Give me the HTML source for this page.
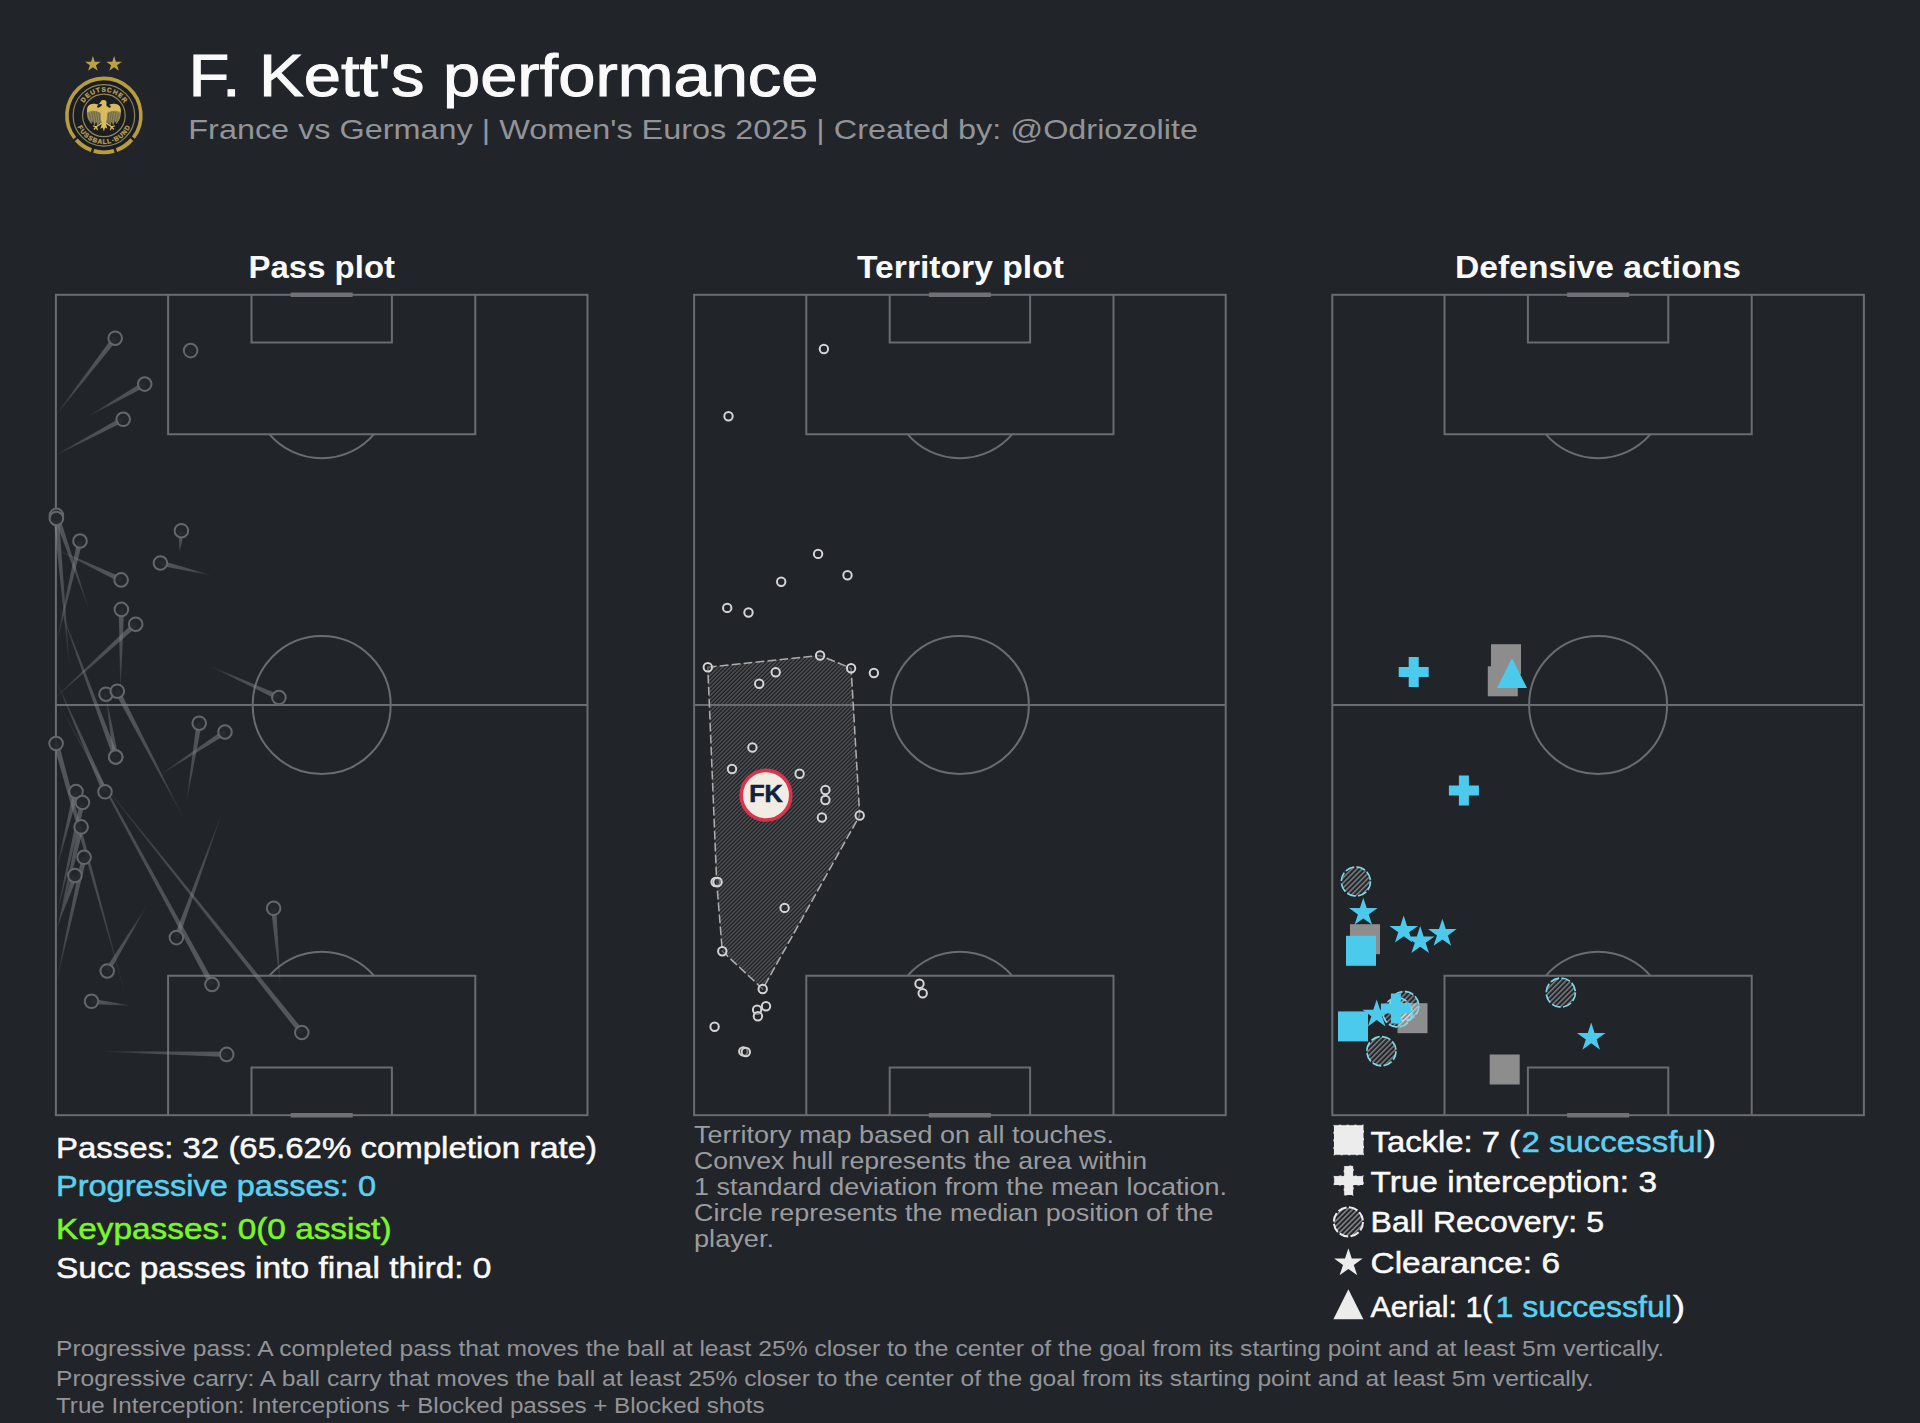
<!DOCTYPE html>
<html lang="en"><head><meta charset="utf-8"><title>F. Kett's performance</title>
<style>html,body{margin:0;padding:0;background:#212429;}body{width:1920px;height:1423px;overflow:hidden;}svg{display:block;}text{font-family:"Liberation Sans",sans-serif;white-space:pre;}</style>
</head><body>
<svg width="1920" height="1423" viewBox="0 0 1920 1423">
<rect width="1920" height="1423" fill="#212429"/>
<defs>
<pattern id="hatch" width="2.83" height="2.83" patternUnits="userSpaceOnUse" patternTransform="rotate(-45)"><rect width="2.83" height="2.83" fill="#1d1f23"/><rect y="0" width="2.83" height="1.3" fill="#56595d"/></pattern>
<pattern id="hatch2" width="3.6" height="3.6" patternUnits="userSpaceOnUse" patternTransform="rotate(-45)"><rect y="0" width="3.6" height="1.5" fill="#ffffff" fill-opacity="0.42"/></pattern>
<pattern id="hatch3" width="3.6" height="3.6" patternUnits="userSpaceOnUse" patternTransform="rotate(-45)"><rect y="0" width="3.6" height="1.5" fill="#8a8c8f"/></pattern>
</defs>
<g>
<polygon points="92.9,56.0 94.7,61.7 100.7,61.7 95.9,65.2 97.7,70.8 92.9,67.3 88.1,70.8 89.9,65.2 85.1,61.7 91.1,61.7" fill="#bda144"/>
<polygon points="114.1,56.0 115.9,61.7 121.9,61.7 117.1,65.2 118.9,70.8 114.1,67.3 109.3,70.8 111.1,65.2 106.3,61.7 112.3,61.7" fill="#bda144"/>
<circle cx="103.9" cy="115.4" r="35" fill="#1b1d21"/>
<g fill="none" stroke="#b89c40" stroke-linecap="butt">
<path d="M74.74 138.18A37 37 0 1 1 133.45 137.67" stroke-width="3.6"/>
<path d="M131.75 139.61A36.9 36.9 0 0 1 116.52 150.07" stroke-width="3.9"/>
<path d="M114.07 150.87A36.9 36.9 0 0 1 93.73 150.87" stroke-width="3.9"/>
<path d="M91.28 150.07A36.9 36.9 0 0 1 76.26 139.85" stroke-width="3.9"/>
</g>
<circle cx="103.9" cy="115.4" r="30.8" fill="none" stroke="#8c865c" stroke-width="1.2"/>
<circle cx="103.9" cy="115.4" r="21.3" fill="none" stroke="#8c865c" stroke-width="1.2"/>
<path id="lgT" d="M81.21 108.89A23.6 23.6 0 0 1 126.59 108.89" fill="none"/>
<path id="lgB" d="M76.15 122.32A28.6 28.6 0 0 0 131.65 122.32" fill="none"/>
<text font-size="6.5" font-weight="bold" fill="#b9a052" stroke="#b9a052" stroke-width="0.3" text-anchor="middle"><textPath href="#lgT" startOffset="50%" textLength="48" lengthAdjust="spacing">DEUTSCHER</textPath></text>
<text font-size="6.5" font-weight="bold" fill="#b9a052" stroke="#b9a052" stroke-width="0.3" text-anchor="middle"><textPath href="#lgB" startOffset="50%" textLength="66" lengthAdjust="spacing">FUSSBALL·BUND</textPath></text>
<g transform="translate(103.9,115.4)">
<path d="M-3 -9 C-7 -12.5 -13 -12.5 -16 -9 C-17.5 -5 -17.5 1 -15 5 L-12.5 8.5 L-11 5.5 L-9.5 10 L-7.8 6.5 L-6.2 10.6 L-4.6 7 L-3 9.5 L-2.2 -2 Z" fill="#8f875a"/>
<path d="M3 -9 C7 -12.5 13 -12.5 16 -9 C17.5 -5 17.5 1 15 5 L12.5 8.5 L11 5.5 L9.5 10 L7.8 6.5 L6.2 10.6 L4.6 7 L3 9.5 L2.2 -2 Z" fill="#8f875a"/>
<path d="M-2.6 -8.5 C-7 -12.6 -13 -12.6 -16 -9 C-16.8 -6.8 -17 -4.5 -16.8 -2.6 C-13 -5.5 -7 -5.2 -2.4 -1.5 Z" fill="#d6ba5c"/>
<path d="M2.6 -8.5 C7 -12.6 13 -12.6 16 -9 C16.8 -6.8 17 -4.5 16.8 -2.6 C13 -5.5 7 -5.2 2.4 -1.5 Z" fill="#d6ba5c"/>
<path d="M-0.6 -15.4 C1.8 -15.6 3.2 -13.8 2.6 -11.8 C2.3 -10.6 2.6 -9.5 3.2 -8.4 L3 4 L2.2 9 L3.6 13.4 L1.2 12.2 L0 16.2 L-1.2 12.2 L-3.6 13.4 L-2.2 9 L-3 4 L-3.2 -8.4 C-2.4 -9.4 -2 -10.4 -2.2 -11.4 L-5.4 -11.2 L-3.4 -13.2 C-3 -14.6 -2 -15.3 -0.6 -15.4 Z" fill="#d8bc5e"/>
<g fill="#1b1d21"><ellipse cx="-5" cy="-9.3" rx="2" ry="1.3" transform="rotate(-25 -5 -9.3)"/><ellipse cx="5" cy="-9.3" rx="2" ry="1.3" transform="rotate(25 5 -9.3)"/></g>
<g stroke="#1b1d21" stroke-width="0.55" stroke-opacity="0.55" fill="none"><path d="M-14.6 -2 L-12.4 7 M-12.2 -3.4 L-10 8 M-9.8 -4 L-7.8 8 M-7.4 -4 L-5.6 8.6 M-5 -3.4 L-3.8 8"/><path d="M14.6 -2 L12.4 7 M12.2 -3.4 L10 8 M9.8 -4 L7.8 8 M7.4 -4 L5.6 8.6 M5 -3.4 L3.8 8"/></g>
<g stroke="#d8bc5e" stroke-width="1.3" stroke-linecap="round" fill="none"><path d="M-2.6 8 L-7.6 11.4 M-7.6 11.4 L-10.4 10.6 M-7.6 11.4 L-9.6 13.6 M-7.6 11.4 L-6.6 14.2"/><path d="M2.6 8 L7.6 11.4 M7.6 11.4 L10.4 10.6 M7.6 11.4 L9.6 13.6 M7.6 11.4 L6.6 14.2"/></g>
</g>
</g>
<text x="188.5" y="95.9" font-size="60" fill="#fafafa" textLength="630.0" lengthAdjust="spacingAndGlyphs" stroke="#fafafa" stroke-width="1.0">F. Kett's performance</text>
<text x="188.3" y="138.5" font-size="27.6" fill="#929497" textLength="1009.7" lengthAdjust="spacingAndGlyphs">France vs Germany | Women's Euros 2025 | Created by: @Odriozolite</text>
<text x="248.5" y="277.8" font-size="31.5" fill="#fafafa" font-weight="bold" textLength="146.5" lengthAdjust="spacingAndGlyphs">Pass plot</text>
<text x="857" y="277.8" font-size="31.5" fill="#fafafa" font-weight="bold" textLength="207" lengthAdjust="spacingAndGlyphs">Territory plot</text>
<text x="1455" y="277.8" font-size="31.5" fill="#fafafa" font-weight="bold" textLength="286" lengthAdjust="spacingAndGlyphs">Defensive actions</text>
<text x="56" y="1157.5" font-size="30" fill="#fafafa" textLength="541" lengthAdjust="spacingAndGlyphs" stroke="#fafafa" stroke-width="0.5">Passes: 32 (65.62% completion rate)</text>
<text x="56" y="1195.8" font-size="30" fill="#5bd1ef" textLength="320" lengthAdjust="spacingAndGlyphs" stroke="#5bd1ef" stroke-width="0.5">Progressive passes: 0</text>
<text x="56" y="1239.2" font-size="30" fill="#79f727" textLength="335.5" lengthAdjust="spacingAndGlyphs" stroke="#79f727" stroke-width="0.5">Keypasses: 0(0 assist)</text>
<text x="56" y="1277.5" font-size="30" fill="#fafafa" textLength="435.5" lengthAdjust="spacingAndGlyphs" stroke="#fafafa" stroke-width="0.5">Succ passes into final third: 0</text>
<text x="694" y="1143" font-size="24.2" fill="#9a9c9f" textLength="420" lengthAdjust="spacingAndGlyphs">Territory map based on all touches.</text>
<text x="694" y="1169.2" font-size="24.2" fill="#9a9c9f" textLength="453" lengthAdjust="spacingAndGlyphs">Convex hull represents the area within</text>
<text x="694" y="1194.6" font-size="24.2" fill="#9a9c9f" textLength="533" lengthAdjust="spacingAndGlyphs">1 standard deviation from the mean location.</text>
<text x="694" y="1220.8" font-size="24.2" fill="#9a9c9f" textLength="519.5" lengthAdjust="spacingAndGlyphs">Circle represents the median position of the</text>
<text x="694" y="1246.7" font-size="24.2" fill="#9a9c9f" textLength="80" lengthAdjust="spacingAndGlyphs">player.</text>
<text x="56" y="1355.8" font-size="21.8" fill="#929497" textLength="1608" lengthAdjust="spacingAndGlyphs">Progressive pass: A completed pass that moves the ball at least 25% closer to the center of the goal from its starting point and at least 5m vertically.</text>
<text x="56" y="1385.9" font-size="21.8" fill="#929497" textLength="1537.6" lengthAdjust="spacingAndGlyphs">Progressive carry: A ball carry that moves the ball at least 25% closer to the center of the goal from its starting point and at least 5m vertically.</text>
<text x="56" y="1413" font-size="21.8" fill="#929497" textLength="708.5" lengthAdjust="spacingAndGlyphs">True Interception: Interceptions + Blocked passes + Blocked shots</text>
<text x="1370.5" y="1152.2" font-size="30" fill="#fafafa" textLength="149.5" lengthAdjust="spacingAndGlyphs" stroke="#fafafa" stroke-width="0.5">Tackle: 7 (</text>
<text x="1521.5" y="1152.2" font-size="30" fill="#5bd1ef" textLength="181.5" lengthAdjust="spacingAndGlyphs" stroke="#5bd1ef" stroke-width="0.5">2 successful</text>
<text x="1704" y="1152.2" font-size="30" fill="#fafafa" textLength="12" lengthAdjust="spacingAndGlyphs" stroke="#fafafa" stroke-width="0.5">)</text>
<text x="1370.5" y="1191.9" font-size="30" fill="#fafafa" textLength="286.5" lengthAdjust="spacingAndGlyphs" stroke="#fafafa" stroke-width="0.5">True interception: 3</text>
<text x="1370.5" y="1231.9" font-size="30" fill="#fafafa" textLength="233.5" lengthAdjust="spacingAndGlyphs" stroke="#fafafa" stroke-width="0.5">Ball Recovery: 5</text>
<text x="1370.5" y="1273.1" font-size="30" fill="#fafafa" textLength="189.5" lengthAdjust="spacingAndGlyphs" stroke="#fafafa" stroke-width="0.5">Clearance: 6</text>
<text x="1370.5" y="1316.9" font-size="30" fill="#fafafa" textLength="122.0" lengthAdjust="spacingAndGlyphs" stroke="#fafafa" stroke-width="0.5">Aerial: 1(</text>
<text x="1495.5" y="1316.9" font-size="30" fill="#5bd1ef" textLength="176.5" lengthAdjust="spacingAndGlyphs" stroke="#5bd1ef" stroke-width="0.5">1 successful</text>
<text x="1673" y="1316.9" font-size="30" fill="#fafafa" textLength="12" lengthAdjust="spacingAndGlyphs" stroke="#fafafa" stroke-width="0.5">)</text>
<polygon points="707.8,667.2 820.1,655.5 851.1,668.3 859.7,815.5 762.7,989.0 722.3,951.2 716.7,882.0" fill="url(#hatch)"/>
<g fill="none" stroke="#696c70" stroke-width="2" stroke-linejoin="miter">
<rect x="55.9" y="294.8" width="531.6" height="820.4"/>
<line x1="55.9" y1="705.0" x2="587.5" y2="705.0"/>
<circle cx="321.7" cy="705.0" r="69.0"/>
<path d="M168.1 294.8V434.3H475.3V294.8"/>
<path d="M168.1 1115.2V975.7H475.3V1115.2"/>
<path d="M251.5 294.8V342.4H391.9V294.8"/>
<path d="M251.5 1115.2V1067.6H391.9V1115.2"/>
<path d="M269.5 434.3A69.0 69.0 0 0 0 373.9 434.3"/>
<path d="M269.5 975.7A69.0 69.0 0 0 1 373.9 975.7"/>
</g>
<g stroke="#707174" stroke-width="4.4" stroke-linecap="butt">
<line x1="290.7" y1="294.8" x2="352.7" y2="294.8"/>
<line x1="290.7" y1="1115.2" x2="352.7" y2="1115.2"/>
</g>
<g fill="none" stroke="#696c70" stroke-width="2" stroke-linejoin="miter">
<rect x="694.1" y="294.8" width="531.6" height="820.4"/>
<line x1="694.1" y1="705.0" x2="1225.7" y2="705.0"/>
<circle cx="959.9" cy="705.0" r="69.0"/>
<path d="M806.3 294.8V434.3H1113.5V294.8"/>
<path d="M806.3 1115.2V975.7H1113.5V1115.2"/>
<path d="M889.7 294.8V342.4H1030.1V294.8"/>
<path d="M889.7 1115.2V1067.6H1030.1V1115.2"/>
<path d="M907.7 434.3A69.0 69.0 0 0 0 1012.1 434.3"/>
<path d="M907.7 975.7A69.0 69.0 0 0 1 1012.1 975.7"/>
</g>
<g stroke="#707174" stroke-width="4.4" stroke-linecap="butt">
<line x1="928.9" y1="294.8" x2="990.9" y2="294.8"/>
<line x1="928.9" y1="1115.2" x2="990.9" y2="1115.2"/>
</g>
<g fill="none" stroke="#696c70" stroke-width="2" stroke-linejoin="miter">
<rect x="1332.3" y="294.8" width="531.6" height="820.4"/>
<line x1="1332.3" y1="705.0" x2="1863.9" y2="705.0"/>
<circle cx="1598.1" cy="705.0" r="69.0"/>
<path d="M1444.5 294.8V434.3H1751.7V294.8"/>
<path d="M1444.5 1115.2V975.7H1751.7V1115.2"/>
<path d="M1527.9 294.8V342.4H1668.3V294.8"/>
<path d="M1527.9 1115.2V1067.6H1668.3V1115.2"/>
<path d="M1545.9 434.3A69.0 69.0 0 0 0 1650.3 434.3"/>
<path d="M1545.9 975.7A69.0 69.0 0 0 1 1650.3 975.7"/>
</g>
<g stroke="#707174" stroke-width="4.4" stroke-linecap="butt">
<line x1="1567.1" y1="294.8" x2="1629.1" y2="294.8"/>
<line x1="1567.1" y1="1115.2" x2="1629.1" y2="1115.2"/>
</g>
<defs><linearGradient id="pg0" gradientUnits="userSpaceOnUse" x1="56.0" y1="415.0" x2="115.2" y2="338.2"><stop offset="0" stop-color="#84878a" stop-opacity="0.06"/><stop offset="0.35" stop-color="#84878a" stop-opacity="0.38"/><stop offset="1" stop-color="#84878a" stop-opacity="0.53"/></linearGradient><linearGradient id="pg1" gradientUnits="userSpaceOnUse" x1="90.0" y1="415.3" x2="144.7" y2="384.1"><stop offset="0" stop-color="#84878a" stop-opacity="0.06"/><stop offset="0.35" stop-color="#84878a" stop-opacity="0.38"/><stop offset="1" stop-color="#84878a" stop-opacity="0.53"/></linearGradient><linearGradient id="pg2" gradientUnits="userSpaceOnUse" x1="56.0" y1="455.0" x2="123.2" y2="419.3"><stop offset="0" stop-color="#84878a" stop-opacity="0.06"/><stop offset="0.35" stop-color="#84878a" stop-opacity="0.38"/><stop offset="1" stop-color="#84878a" stop-opacity="0.53"/></linearGradient><linearGradient id="pg3" gradientUnits="userSpaceOnUse" x1="189.0" y1="351.5" x2="190.6" y2="350.6"><stop offset="0" stop-color="#84878a" stop-opacity="0.06"/><stop offset="0.35" stop-color="#84878a" stop-opacity="0.38"/><stop offset="1" stop-color="#84878a" stop-opacity="0.53"/></linearGradient><linearGradient id="pg4" gradientUnits="userSpaceOnUse" x1="88.3" y1="607.6" x2="56.4" y2="515.4"><stop offset="0" stop-color="#84878a" stop-opacity="0.06"/><stop offset="0.35" stop-color="#84878a" stop-opacity="0.38"/><stop offset="1" stop-color="#84878a" stop-opacity="0.53"/></linearGradient><linearGradient id="pg5" gradientUnits="userSpaceOnUse" x1="69.3" y1="665.8" x2="56.4" y2="518.5"><stop offset="0" stop-color="#84878a" stop-opacity="0.06"/><stop offset="0.35" stop-color="#84878a" stop-opacity="0.38"/><stop offset="1" stop-color="#84878a" stop-opacity="0.53"/></linearGradient><linearGradient id="pg6" gradientUnits="userSpaceOnUse" x1="56.0" y1="645.0" x2="80.0" y2="541.0"><stop offset="0" stop-color="#84878a" stop-opacity="0.06"/><stop offset="0.35" stop-color="#84878a" stop-opacity="0.38"/><stop offset="1" stop-color="#84878a" stop-opacity="0.53"/></linearGradient><linearGradient id="pg7" gradientUnits="userSpaceOnUse" x1="58.0" y1="550.0" x2="121.1" y2="579.9"><stop offset="0" stop-color="#84878a" stop-opacity="0.06"/><stop offset="0.35" stop-color="#84878a" stop-opacity="0.38"/><stop offset="1" stop-color="#84878a" stop-opacity="0.53"/></linearGradient><linearGradient id="pg8" gradientUnits="userSpaceOnUse" x1="120.5" y1="690.0" x2="121.4" y2="609.4"><stop offset="0" stop-color="#84878a" stop-opacity="0.06"/><stop offset="0.35" stop-color="#84878a" stop-opacity="0.38"/><stop offset="1" stop-color="#84878a" stop-opacity="0.53"/></linearGradient><linearGradient id="pg9" gradientUnits="userSpaceOnUse" x1="56.0" y1="697.0" x2="135.7" y2="624.2"><stop offset="0" stop-color="#84878a" stop-opacity="0.06"/><stop offset="0.35" stop-color="#84878a" stop-opacity="0.38"/><stop offset="1" stop-color="#84878a" stop-opacity="0.53"/></linearGradient><linearGradient id="pg10" gradientUnits="userSpaceOnUse" x1="210.0" y1="575.0" x2="160.4" y2="563.0"><stop offset="0" stop-color="#84878a" stop-opacity="0.06"/><stop offset="0.35" stop-color="#84878a" stop-opacity="0.38"/><stop offset="1" stop-color="#84878a" stop-opacity="0.53"/></linearGradient><linearGradient id="pg11" gradientUnits="userSpaceOnUse" x1="179.5" y1="553.0" x2="181.4" y2="530.7"><stop offset="0" stop-color="#84878a" stop-opacity="0.06"/><stop offset="0.35" stop-color="#84878a" stop-opacity="0.38"/><stop offset="1" stop-color="#84878a" stop-opacity="0.53"/></linearGradient><linearGradient id="pg12" gradientUnits="userSpaceOnUse" x1="212.0" y1="667.0" x2="278.9" y2="697.5"><stop offset="0" stop-color="#84878a" stop-opacity="0.06"/><stop offset="0.35" stop-color="#84878a" stop-opacity="0.38"/><stop offset="1" stop-color="#84878a" stop-opacity="0.53"/></linearGradient><linearGradient id="pg13" gradientUnits="userSpaceOnUse" x1="104.0" y1="700.0" x2="106.0" y2="694.2"><stop offset="0" stop-color="#84878a" stop-opacity="0.06"/><stop offset="0.35" stop-color="#84878a" stop-opacity="0.38"/><stop offset="1" stop-color="#84878a" stop-opacity="0.53"/></linearGradient><linearGradient id="pg14" gradientUnits="userSpaceOnUse" x1="183.0" y1="817.0" x2="117.3" y2="691.2"><stop offset="0" stop-color="#84878a" stop-opacity="0.06"/><stop offset="0.35" stop-color="#84878a" stop-opacity="0.38"/><stop offset="1" stop-color="#84878a" stop-opacity="0.53"/></linearGradient><linearGradient id="pg15" gradientUnits="userSpaceOnUse" x1="57.0" y1="600.0" x2="115.7" y2="757.0"><stop offset="0" stop-color="#84878a" stop-opacity="0.06"/><stop offset="0.35" stop-color="#84878a" stop-opacity="0.38"/><stop offset="1" stop-color="#84878a" stop-opacity="0.53"/></linearGradient><linearGradient id="pg16" gradientUnits="userSpaceOnUse" x1="106.0" y1="696.0" x2="115.7" y2="757.0"><stop offset="0" stop-color="#84878a" stop-opacity="0.06"/><stop offset="0.35" stop-color="#84878a" stop-opacity="0.38"/><stop offset="1" stop-color="#84878a" stop-opacity="0.53"/></linearGradient><linearGradient id="pg17" gradientUnits="userSpaceOnUse" x1="124.0" y1="990.0" x2="56.1" y2="743.5"><stop offset="0" stop-color="#84878a" stop-opacity="0.06"/><stop offset="0.35" stop-color="#84878a" stop-opacity="0.38"/><stop offset="1" stop-color="#84878a" stop-opacity="0.53"/></linearGradient><linearGradient id="pg18" gradientUnits="userSpaceOnUse" x1="57.0" y1="868.0" x2="76.0" y2="791.5"><stop offset="0" stop-color="#84878a" stop-opacity="0.06"/><stop offset="0.35" stop-color="#84878a" stop-opacity="0.38"/><stop offset="1" stop-color="#84878a" stop-opacity="0.53"/></linearGradient><linearGradient id="pg19" gradientUnits="userSpaceOnUse" x1="56.6" y1="915.6" x2="82.4" y2="802.5"><stop offset="0" stop-color="#84878a" stop-opacity="0.06"/><stop offset="0.35" stop-color="#84878a" stop-opacity="0.38"/><stop offset="1" stop-color="#84878a" stop-opacity="0.53"/></linearGradient><linearGradient id="pg20" gradientUnits="userSpaceOnUse" x1="56.6" y1="932.5" x2="81.1" y2="826.9"><stop offset="0" stop-color="#84878a" stop-opacity="0.06"/><stop offset="0.35" stop-color="#84878a" stop-opacity="0.38"/><stop offset="1" stop-color="#84878a" stop-opacity="0.53"/></linearGradient><linearGradient id="pg21" gradientUnits="userSpaceOnUse" x1="56.6" y1="981.4" x2="84.1" y2="857.3"><stop offset="0" stop-color="#84878a" stop-opacity="0.06"/><stop offset="0.35" stop-color="#84878a" stop-opacity="0.38"/><stop offset="1" stop-color="#84878a" stop-opacity="0.53"/></linearGradient><linearGradient id="pg22" gradientUnits="userSpaceOnUse" x1="57.0" y1="927.0" x2="74.9" y2="875.5"><stop offset="0" stop-color="#84878a" stop-opacity="0.06"/><stop offset="0.35" stop-color="#84878a" stop-opacity="0.38"/><stop offset="1" stop-color="#84878a" stop-opacity="0.53"/></linearGradient><linearGradient id="pg23" gradientUnits="userSpaceOnUse" x1="56.0" y1="680.0" x2="105.0" y2="791.8"><stop offset="0" stop-color="#84878a" stop-opacity="0.06"/><stop offset="0.35" stop-color="#84878a" stop-opacity="0.38"/><stop offset="1" stop-color="#84878a" stop-opacity="0.53"/></linearGradient><linearGradient id="pg24" gradientUnits="userSpaceOnUse" x1="57.0" y1="700.0" x2="212.0" y2="984.5"><stop offset="0" stop-color="#84878a" stop-opacity="0.06"/><stop offset="0.35" stop-color="#84878a" stop-opacity="0.38"/><stop offset="1" stop-color="#84878a" stop-opacity="0.53"/></linearGradient><linearGradient id="pg25" gradientUnits="userSpaceOnUse" x1="100.0" y1="780.0" x2="301.8" y2="1032.5"><stop offset="0" stop-color="#84878a" stop-opacity="0.06"/><stop offset="0.35" stop-color="#84878a" stop-opacity="0.38"/><stop offset="1" stop-color="#84878a" stop-opacity="0.53"/></linearGradient><linearGradient id="pg26" gradientUnits="userSpaceOnUse" x1="186.5" y1="802.0" x2="199.2" y2="723.2"><stop offset="0" stop-color="#84878a" stop-opacity="0.06"/><stop offset="0.35" stop-color="#84878a" stop-opacity="0.38"/><stop offset="1" stop-color="#84878a" stop-opacity="0.53"/></linearGradient><linearGradient id="pg27" gradientUnits="userSpaceOnUse" x1="162.0" y1="773.5" x2="225.0" y2="732.0"><stop offset="0" stop-color="#84878a" stop-opacity="0.06"/><stop offset="0.35" stop-color="#84878a" stop-opacity="0.38"/><stop offset="1" stop-color="#84878a" stop-opacity="0.53"/></linearGradient><linearGradient id="pg28" gradientUnits="userSpaceOnUse" x1="280.3" y1="985.0" x2="273.6" y2="908.3"><stop offset="0" stop-color="#84878a" stop-opacity="0.06"/><stop offset="0.35" stop-color="#84878a" stop-opacity="0.38"/><stop offset="1" stop-color="#84878a" stop-opacity="0.53"/></linearGradient><linearGradient id="pg29" gradientUnits="userSpaceOnUse" x1="222.0" y1="813.0" x2="176.4" y2="937.6"><stop offset="0" stop-color="#84878a" stop-opacity="0.06"/><stop offset="0.35" stop-color="#84878a" stop-opacity="0.38"/><stop offset="1" stop-color="#84878a" stop-opacity="0.53"/></linearGradient><linearGradient id="pg30" gradientUnits="userSpaceOnUse" x1="146.0" y1="907.0" x2="107.2" y2="971.0"><stop offset="0" stop-color="#84878a" stop-opacity="0.06"/><stop offset="0.35" stop-color="#84878a" stop-opacity="0.38"/><stop offset="1" stop-color="#84878a" stop-opacity="0.53"/></linearGradient><linearGradient id="pg31" gradientUnits="userSpaceOnUse" x1="130.0" y1="1005.5" x2="91.5" y2="1001.3"><stop offset="0" stop-color="#84878a" stop-opacity="0.06"/><stop offset="0.35" stop-color="#84878a" stop-opacity="0.38"/><stop offset="1" stop-color="#84878a" stop-opacity="0.53"/></linearGradient><linearGradient id="pg32" gradientUnits="userSpaceOnUse" x1="105.0" y1="1051.5" x2="226.7" y2="1054.4"><stop offset="0" stop-color="#84878a" stop-opacity="0.06"/><stop offset="0.35" stop-color="#84878a" stop-opacity="0.38"/><stop offset="1" stop-color="#84878a" stop-opacity="0.53"/></linearGradient></defs>
<g><polygon fill="url(#pg0)" points="56.2,415.2 117.3,339.8 113.1,336.6 55.8,414.8"/>
<polygon fill="url(#pg1)" points="90.1,415.5 146.0,386.4 143.4,381.8 89.9,415.1"/>
<polygon fill="url(#pg2)" points="56.1,455.2 124.4,421.6 122.0,417.0 55.9,454.8"/>
<polygon fill="url(#pg3)" points="189.1,351.7 191.9,352.9 189.3,348.3 188.9,351.3"/>
<polygon fill="url(#pg4)" points="88.5,607.5 58.9,514.5 53.9,516.3 88.1,607.7"/>
<polygon fill="url(#pg5)" points="69.5,665.8 59.0,518.3 53.8,518.7 69.1,665.8"/>
<polygon fill="url(#pg6)" points="56.2,645.1 82.5,541.6 77.5,540.4 55.8,644.9"/>
<polygon fill="url(#pg7)" points="57.9,550.2 120.0,582.2 122.2,577.6 58.1,549.8"/>
<polygon fill="url(#pg8)" points="120.7,690.0 124.0,609.4 118.8,609.4 120.3,690.0"/>
<polygon fill="url(#pg9)" points="56.2,697.2 137.5,626.1 133.9,622.3 55.8,696.8"/>
<polygon fill="url(#pg10)" points="210.1,574.8 161.0,560.5 159.8,565.5 209.9,575.2"/>
<polygon fill="url(#pg11)" points="179.7,553.0 184.0,530.9 178.8,530.5 179.3,553.0"/>
<polygon fill="url(#pg12)" points="211.9,667.2 277.8,699.9 280.0,695.1 212.1,666.8"/>
<polygon fill="url(#pg13)" points="104.2,700.1 108.5,695.0 103.5,693.4 103.8,699.9"/>
<polygon fill="url(#pg14)" points="183.2,816.9 119.6,690.0 115.0,692.4 182.8,817.1"/>
<polygon fill="url(#pg15)" points="56.8,600.1 113.3,757.9 118.1,756.1 57.2,599.9"/>
<polygon fill="url(#pg16)" points="105.8,696.0 113.1,757.4 118.3,756.6 106.2,696.0"/>
<polygon fill="url(#pg17)" points="124.2,989.9 58.6,742.8 53.6,744.2 123.8,990.1"/>
<polygon fill="url(#pg18)" points="57.2,868.1 78.5,792.1 73.5,790.9 56.8,867.9"/>
<polygon fill="url(#pg19)" points="56.8,915.7 84.9,803.1 79.9,801.9 56.4,915.5"/>
<polygon fill="url(#pg20)" points="56.8,932.6 83.6,827.5 78.6,826.3 56.4,932.4"/>
<polygon fill="url(#pg21)" points="56.8,981.5 86.6,857.9 81.6,856.7 56.4,981.3"/>
<polygon fill="url(#pg22)" points="57.2,927.1 77.4,876.4 72.4,874.6 56.8,926.9"/>
<polygon fill="url(#pg23)" points="55.8,680.1 102.6,792.8 107.4,790.8 56.2,679.9"/>
<polygon fill="url(#pg24)" points="56.8,700.1 209.7,985.7 214.3,983.3 57.2,699.9"/>
<polygon fill="url(#pg25)" points="99.8,780.2 299.8,1034.1 303.8,1030.9 100.2,779.8"/>
<polygon fill="url(#pg26)" points="186.7,802.0 201.8,723.6 196.6,722.8 186.3,802.0"/>
<polygon fill="url(#pg27)" points="162.1,773.7 226.4,734.2 223.6,729.8 161.9,773.3"/>
<polygon fill="url(#pg28)" points="280.5,985.0 276.2,908.1 271.0,908.5 280.1,985.0"/>
<polygon fill="url(#pg29)" points="221.8,812.9 174.0,936.7 178.8,938.5 222.2,813.1"/>
<polygon fill="url(#pg30)" points="145.8,906.9 105.0,969.7 109.4,972.3 146.2,907.1"/>
<polygon fill="url(#pg31)" points="130.0,1005.3 91.8,998.7 91.2,1003.9 130.0,1005.7"/>
<polygon fill="url(#pg32)" points="105.0,1051.7 226.6,1057.0 226.8,1051.8 105.0,1051.3"/></g>
<g fill="#24272b" fill-opacity="0.9" stroke="#64676b" stroke-width="2"><circle cx="115.2" cy="338.2" r="6.8"/>
<circle cx="144.7" cy="384.1" r="6.8"/>
<circle cx="123.2" cy="419.3" r="6.8"/>
<circle cx="190.6" cy="350.6" r="6.8"/>
<circle cx="56.4" cy="515.4" r="6.8"/>
<circle cx="56.4" cy="518.5" r="6.8"/>
<circle cx="80.0" cy="541.0" r="6.8"/>
<circle cx="121.1" cy="579.9" r="6.8"/>
<circle cx="121.4" cy="609.4" r="6.8"/>
<circle cx="135.7" cy="624.2" r="6.8"/>
<circle cx="160.4" cy="563.0" r="6.8"/>
<circle cx="181.4" cy="530.7" r="6.8"/>
<circle cx="278.9" cy="697.5" r="6.8"/>
<circle cx="106.0" cy="694.2" r="6.8"/>
<circle cx="117.3" cy="691.2" r="6.8"/>
<circle cx="115.7" cy="757.0" r="6.8"/>
<circle cx="115.7" cy="757.0" r="6.8"/>
<circle cx="56.1" cy="743.5" r="6.8"/>
<circle cx="76.0" cy="791.5" r="6.8"/>
<circle cx="82.4" cy="802.5" r="6.8"/>
<circle cx="81.1" cy="826.9" r="6.8"/>
<circle cx="84.1" cy="857.3" r="6.8"/>
<circle cx="74.9" cy="875.5" r="6.8"/>
<circle cx="105.0" cy="791.8" r="6.8"/>
<circle cx="212.0" cy="984.5" r="6.8"/>
<circle cx="301.8" cy="1032.5" r="6.8"/>
<circle cx="199.2" cy="723.2" r="6.8"/>
<circle cx="225.0" cy="732.0" r="6.8"/>
<circle cx="273.6" cy="908.3" r="6.8"/>
<circle cx="176.4" cy="937.6" r="6.8"/>
<circle cx="107.2" cy="971.0" r="6.8"/>
<circle cx="91.5" cy="1001.3" r="6.8"/>
<circle cx="226.7" cy="1054.4" r="6.8"/></g>
<polygon points="707.8,667.2 820.1,655.5 851.1,668.3 859.7,815.5 762.7,989.0 722.3,951.2 716.7,882.0" fill="none" stroke="#acadaf" stroke-width="1.55" stroke-dasharray="8.8 3.2"/>
<g fill="#212429" fill-opacity="0.5" stroke="#d4d5d6" stroke-width="2">
<circle cx="823.9" cy="349.0" r="4.2"/>
<circle cx="728.5" cy="416.2" r="4.2"/>
<circle cx="818.1" cy="553.9" r="4.2"/>
<circle cx="847.5" cy="575.3" r="4.2"/>
<circle cx="781.2" cy="581.7" r="4.2"/>
<circle cx="727.2" cy="607.9" r="4.2"/>
<circle cx="748.5" cy="612.5" r="4.2"/>
<circle cx="707.8" cy="667.2" r="4.2"/>
<circle cx="820.1" cy="655.5" r="4.2"/>
<circle cx="851.1" cy="668.3" r="4.2"/>
<circle cx="859.7" cy="815.5" r="4.2"/>
<circle cx="775.7" cy="672.3" r="4.2"/>
<circle cx="759.2" cy="683.7" r="4.2"/>
<circle cx="873.9" cy="673.0" r="4.2"/>
<circle cx="752.4" cy="747.5" r="4.2"/>
<circle cx="732.0" cy="769.0" r="4.2"/>
<circle cx="799.6" cy="773.8" r="4.2"/>
<circle cx="825.4" cy="790.0" r="4.2"/>
<circle cx="825.4" cy="800.0" r="4.2"/>
<circle cx="821.9" cy="817.5" r="4.2"/>
<circle cx="715.6" cy="882.0" r="4.2"/>
<circle cx="717.6" cy="882.0" r="4.2"/>
<circle cx="722.3" cy="951.2" r="4.2"/>
<circle cx="762.7" cy="989.0" r="4.2"/>
<circle cx="784.6" cy="907.9" r="4.2"/>
<circle cx="766.0" cy="1006.2" r="4.2"/>
<circle cx="757.1" cy="1009.7" r="4.2"/>
<circle cx="757.9" cy="1016.2" r="4.2"/>
<circle cx="714.6" cy="1026.7" r="4.2"/>
<circle cx="743.3" cy="1051.4" r="4.2"/>
<circle cx="745.8" cy="1052.0" r="4.2"/>
<circle cx="919.5" cy="983.8" r="4.2"/>
<circle cx="922.7" cy="993.2" r="4.2"/>
</g>
<circle cx="766" cy="795.2" r="24.8" fill="#f1ede3" stroke="#d9344f" stroke-width="3.6"/>
<text x="766" y="801.5" font-size="23.5" font-weight="bold" fill="#14213d" stroke="#14213d" stroke-width="0.6" text-anchor="middle" textLength="33.5" lengthAdjust="spacingAndGlyphs">FK</text>
<rect x="1491.0" y="644.2" width="30" height="30" fill="#8d8d8d"/>
<rect x="1487.8" y="666.3" width="30" height="30" fill="#8d8d8d"/>
<polygon points="1512.0,658.0 1497.0,688.0 1527.0,688.0" fill="#4ccaec"/>
<path d="M1408.7 657.0h10.0v10.0h10.0v10.0h-10.0v10.0h-10.0v-10.0h-10.0v-10.0h10.0z" fill="#4ccaec"/>
<path d="M1458.9 775.5h10.0v10.0h10.0v10.0h-10.0v10.0h-10.0v-10.0h-10.0v-10.0h10.0z" fill="#4ccaec"/>
<circle cx="1355.9" cy="881.5" r="14.6" fill="url(#hatch2)" stroke="#7fd9ec" stroke-width="1.7" stroke-dasharray="9 2.5"/>
<rect x="1350.0" y="924.2" width="30" height="30" fill="#8d8d8d"/>
<rect x="1346.0" y="935.8" width="30" height="30" fill="#4ccaec"/>
<polygon points="1363.3,897.7 1366.7,908.1 1377.6,908.1 1368.7,914.5 1372.1,924.8 1363.3,918.4 1354.5,924.8 1357.9,914.5 1349.0,908.1 1359.9,908.1" fill="#4ccaec"/>
<polygon points="1403.7,915.5 1407.1,925.9 1418.0,925.9 1409.1,932.3 1412.5,942.6 1403.7,936.2 1394.9,942.6 1398.3,932.3 1389.4,925.9 1400.3,925.9" fill="#4ccaec"/>
<polygon points="1420.2,926.0 1423.6,936.4 1434.5,936.4 1425.6,942.8 1429.0,953.1 1420.2,946.7 1411.4,953.1 1414.8,942.8 1405.9,936.4 1416.8,936.4" fill="#4ccaec"/>
<polygon points="1442.4,918.7 1445.8,929.1 1456.7,929.1 1447.8,935.5 1451.2,945.8 1442.4,939.4 1433.6,945.8 1437.0,935.5 1428.1,929.1 1439.0,929.1" fill="#4ccaec"/>
<rect x="1397.5" y="1003.2" width="30" height="30" fill="#8d8d8d"/>
<circle cx="1404.2" cy="1006.0" r="14.6" fill="url(#hatch2)" stroke="#7fd9ec" stroke-width="1.7" stroke-dasharray="9 2.5"/>
<circle cx="1397.5" cy="1012.5" r="14.6" fill="url(#hatch2)" stroke="#7fd9ec" stroke-width="1.7" stroke-dasharray="9 2.5"/>
<path d="M1390.9 993.5h10.0v10.0h10.0v10.0h-10.0v10.0h-10.0v-10.0h-10.0v-10.0h10.0z" fill="#4ccaec"/>
<rect x="1338.0" y="1011.4" width="30" height="30" fill="#4ccaec"/>
<polygon points="1376.7,999.4 1380.1,1009.8 1391.0,1009.8 1382.1,1016.2 1385.5,1026.5 1376.7,1020.1 1367.9,1026.5 1371.3,1016.2 1362.4,1009.8 1373.3,1009.8" fill="#4ccaec"/>
<circle cx="1381.4" cy="1051.2" r="14.6" fill="url(#hatch2)" stroke="#7fd9ec" stroke-width="1.7" stroke-dasharray="9 2.5"/>
<circle cx="1560.8" cy="992.6" r="14.6" fill="url(#hatch2)" stroke="#7fd9ec" stroke-width="1.7" stroke-dasharray="9 2.5"/>
<polygon points="1591.2,1022.6 1594.6,1033.0 1605.5,1033.0 1596.6,1039.4 1600.0,1049.7 1591.2,1043.3 1582.4,1049.7 1585.8,1039.4 1576.9,1033.0 1587.8,1033.0" fill="#4ccaec"/>
<rect x="1489.7" y="1054.5" width="30" height="30" fill="#8d8d8d"/>
<rect x="1333.4" y="1124.7" width="30.6" height="30.6" fill="#ececec" stroke="#212429" stroke-width="1" stroke-dasharray="5.5 2.2"/>
<path d="M1343.7 1165.6h10.0v10.0h10.0v10.0h-10.0v10.0h-10.0v-10.0h-10.0v-10.0h10.0z" fill="#ececec" stroke="#212429" stroke-width="1" stroke-dasharray="5.5 2.2"/>
<circle cx="1348.4" cy="1221.9" r="14.6" fill="url(#hatch3)" stroke="#ececec" stroke-width="2" stroke-dasharray="9 2.5"/>
<polygon points="1348.4,1248.2 1351.8,1258.6 1362.7,1258.6 1353.8,1265.0 1357.2,1275.3 1348.4,1268.9 1339.6,1275.3 1343.0,1265.0 1334.1,1258.6 1345.0,1258.6" fill="#ececec"/>
<polygon points="1348.4,1289.3 1333.4,1319.3 1363.4,1319.3" fill="#ececec"/>
</svg></body></html>
